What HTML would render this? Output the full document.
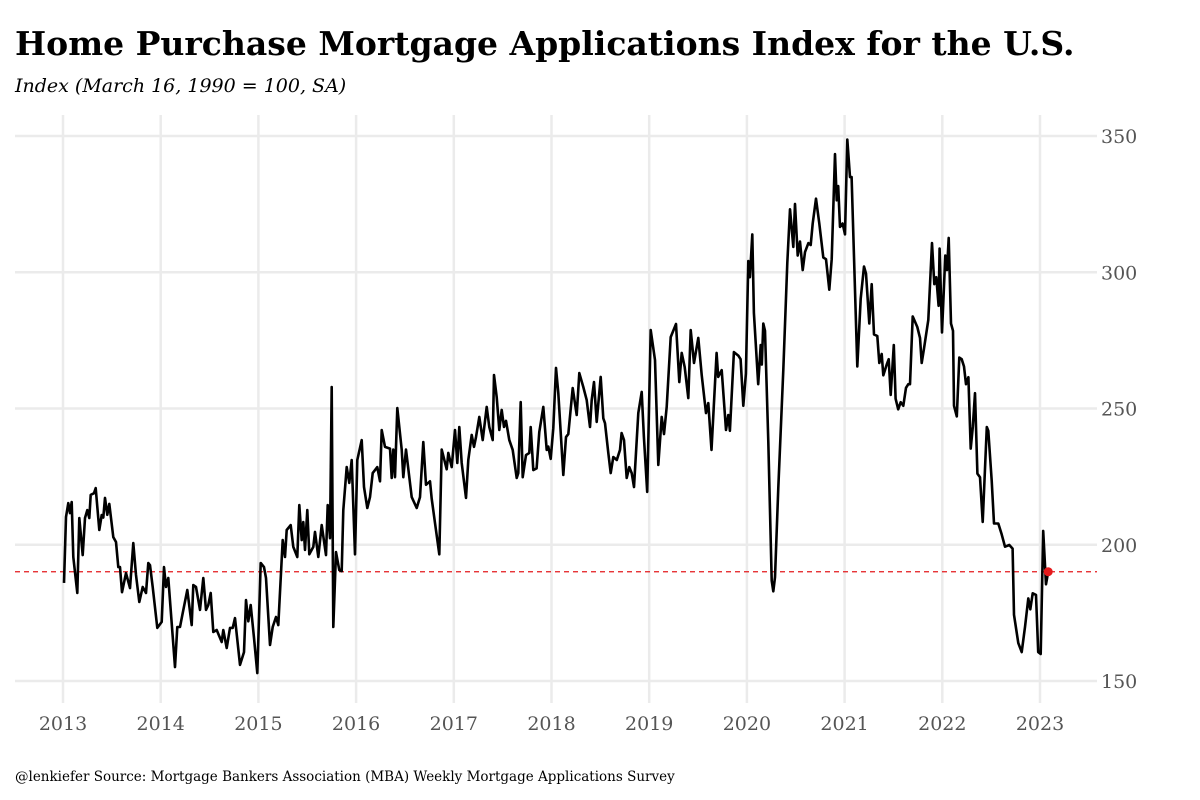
<!DOCTYPE html>
<html><head><meta charset="utf-8">
<style>
html,body{margin:0;padding:0;background:#fff;}
body{width:1200px;height:800px;overflow:hidden;}
svg{display:block;}
</style></head>
<body>
<svg id="chart" width="1200" height="800">
<text x="15" y="55" font-family="DejaVu Serif, Liberation Serif, serif" font-weight="bold" font-size="33" fill="#000">Home Purchase Mortgage Applications Index for the U.S.</text>
<text x="15" y="92" font-family="DejaVu Serif, Liberation Serif, serif" font-style="italic" font-size="19" fill="#000">Index (March 16, 1990 = 100, SA)</text>
<text x="15" y="781" font-family="DejaVu Serif, Liberation Serif, serif" font-size="13.5" fill="#000">@lenkiefer Source: Mortgage Bankers Association (MBA) Weekly Mortgage Applications Survey</text>
<g id="grid"></g>
<g id="series"></g>
<g id="axes"></g>
</svg>
<script>
const dates=[2013.010,2013.031,2013.054,2013.072,2013.089,2013.105,2013.146,2013.167,2013.202,2013.225,2013.249,2013.269,2013.284,2013.317,2013.335,2013.372,2013.396,2013.412,2013.430,2013.453,2013.474,2013.515,2013.542,2013.566,2013.583,2013.604,2013.645,2013.686,2013.720,2013.747,2013.781,2013.816,2013.850,2013.873,2013.890,2013.918,2013.965,2014.010,2014.034,2014.054,2014.078,2014.146,2014.170,2014.198,2014.225,2014.272,2014.317,2014.334,2014.361,2014.402,2014.436,2014.464,2014.487,2014.512,2014.538,2014.573,2014.624,2014.641,2014.676,2014.709,2014.737,2014.760,2014.812,2014.853,2014.873,2014.897,2014.921,2014.955,2014.989,2015.024,2015.057,2015.078,2015.119,2015.146,2015.180,2015.204,2015.249,2015.272,2015.290,2015.331,2015.357,2015.398,2015.419,2015.443,2015.460,2015.477,2015.500,2015.521,2015.562,2015.579,2015.613,2015.648,2015.692,2015.709,2015.733,2015.750,2015.767,2015.794,2015.828,2015.853,2015.869,2015.904,2015.930,2015.955,2015.989,2016.012,2016.057,2016.081,2016.115,2016.142,2016.170,2016.217,2016.245,2016.262,2016.296,2016.347,2016.364,2016.381,2016.398,2016.422,2016.467,2016.483,2016.511,2016.569,2016.620,2016.654,2016.688,2016.715,2016.756,2016.774,2016.808,2016.852,2016.876,2016.927,2016.944,2016.978,2017.012,2017.036,2017.056,2017.081,2017.125,2017.148,2017.183,2017.207,2017.227,2017.261,2017.296,2017.337,2017.363,2017.398,2017.411,2017.439,2017.466,2017.490,2017.514,2017.534,2017.568,2017.603,2017.644,2017.660,2017.685,2017.705,2017.739,2017.773,2017.787,2017.814,2017.848,2017.875,2017.916,2017.951,2017.967,2017.992,2018.018,2018.046,2018.070,2018.121,2018.148,2018.172,2018.217,2018.258,2018.285,2018.325,2018.360,2018.394,2018.411,2018.435,2018.463,2018.504,2018.530,2018.548,2018.581,2018.606,2018.633,2018.668,2018.701,2018.718,2018.742,2018.770,2018.796,2018.821,2018.844,2018.888,2018.923,2018.946,2018.980,2019.015,2019.059,2019.093,2019.128,2019.151,2019.179,2019.220,2019.274,2019.308,2019.333,2019.363,2019.400,2019.425,2019.459,2019.503,2019.537,2019.581,2019.605,2019.638,2019.690,2019.706,2019.742,2019.786,2019.810,2019.826,2019.867,2019.912,2019.936,2019.963,2019.990,2020.014,2020.031,2020.055,2020.072,2020.116,2020.141,2020.152,2020.168,2020.185,2020.219,2020.254,2020.270,2020.288,2020.321,2020.373,2020.413,2020.441,2020.475,2020.492,2020.520,2020.544,2020.571,2020.595,2020.629,2020.653,2020.674,2020.707,2020.741,2020.782,2020.810,2020.843,2020.868,2020.902,2020.919,2020.934,2020.953,2020.980,2021.004,2021.028,2021.055,2021.072,2021.130,2021.165,2021.199,2021.219,2021.253,2021.277,2021.301,2021.335,2021.355,2021.380,2021.396,2021.431,2021.451,2021.472,2021.504,2021.522,2021.549,2021.574,2021.601,2021.628,2021.652,2021.669,2021.697,2021.744,2021.772,2021.789,2021.813,2021.857,2021.895,2021.918,2021.939,2021.962,2021.972,2021.997,2022.031,2022.048,2022.065,2022.089,2022.110,2022.120,2022.148,2022.174,2022.199,2022.222,2022.243,2022.267,2022.291,2022.312,2022.335,2022.359,2022.386,2022.414,2022.455,2022.471,2022.506,2022.529,2022.573,2022.608,2022.642,2022.686,2022.720,2022.734,2022.778,2022.813,2022.846,2022.880,2022.901,2022.925,2022.959,2022.982,2023.007,2023.033,2023.061,2023.084];
const values=[186,210.2,215.3,211.6,215.7,195.5,182.3,209.8,196.2,209.8,212.7,209.8,218.3,218.9,220.8,205.4,210.9,210,217.2,211,215,202.8,201,191.8,191.8,182.6,189.6,184.1,200.6,188.9,179,184.5,182.3,193.3,192.5,184.5,169.5,171.7,191.8,184.5,187.8,155.1,169.8,169.8,174.9,183.4,170.5,185.2,184.5,176.1,187.8,176.1,177.9,182.3,168,168.7,164.3,168.7,162.1,169.5,169.5,173.1,155.9,160.6,179.7,171.9,177.9,165.8,152.9,193.3,191.8,187.8,163.2,169.8,173.5,170.5,201.7,195.5,205.4,207.2,199.2,195.5,214.6,201.7,208.3,198.1,212.7,196.5,199.2,204.7,195.5,207.2,196.2,214.6,202.4,257.9,169.8,197.3,190.7,190.3,212.7,228.5,222.7,231.1,196.5,231.1,238.4,221.2,213.5,217.5,226.3,228.5,223.3,242.1,235.9,235.3,224.5,234.9,224.8,250.2,234.9,224.8,234.9,217.5,213.5,217.5,237.7,222,223.3,216.9,208,196.5,234.9,227.7,233.7,228.5,242.1,230,243.2,230,217.2,231.1,240.3,235.9,239.5,246.9,238.4,250.6,243.2,238.4,262.3,254.2,242.1,249.5,243.2,245.5,238.4,234.8,224.5,226.3,252.4,224.8,232.9,233.7,243.2,227.4,228,241.4,250.6,234.8,236,231.5,242.8,264.9,255.7,225.6,239.5,240.6,257.5,247.6,263,257.9,253.1,243.2,253.1,259.7,245.1,261.6,246.4,244.6,233.7,226.3,232.2,231.1,234.8,241,238.4,224.5,228.5,226.3,221.2,248.3,256.1,239.5,219.4,278.8,267.8,229.3,246.9,240.6,250.6,276.2,281,259.7,270.4,265.2,253.8,278.8,266.7,275.9,262.3,248.3,252,234.8,270.4,261.6,264.1,242.1,247.6,241.8,270.7,269.4,268.1,251.0,262.8,304.1,298.2,313.9,285.1,258.9,273.3,266.1,281.2,278.5,237.9,186.8,182.9,188.1,220.9,264.1,303.4,323.1,309.3,325.1,306.1,311.3,300.8,307.4,310.7,310.0,317.9,327.0,317.9,305.4,304.8,293.6,304.8,343.4,326.4,331.6,316.6,317.9,313.9,348.7,334.9,334.9,265.4,290.3,302.1,299.5,281.2,295.6,277.2,276.6,266.7,270.0,262.2,266.1,268.1,255.0,273.3,253.6,249.7,252.3,251.0,257.6,258.9,258.9,283.8,279.9,275.9,266.7,272.0,282.5,310.7,295.6,298.2,287.7,308.7,277.9,306.1,300.8,312.6,281.2,278.5,251.0,247.1,268.7,268.1,265.4,258.9,261.5,235.3,243.2,255.6,226.1,224.8,208.4,243.2,241.8,223.5,207.8,207.8,203.8,199.3,199.9,198.6,174.3,163.9,160.6,169.8,180.3,176.3,182.2,181.6,160.6,159.9,205.1,185.5,190.1];
const xTicks=[2013,2014,2015,2016,2017,2018,2019,2020,2021,2022,2023];
const yTicks=[150,200,250,300,350];

const NS="http://www.w3.org/2000/svg";
const X0=63, PXY=97.7, Y150=681, PXV=2.725;
function xs(t){return X0+(t-2013)*PXY;}
function ys(v){return Y150-(v-150)*PXV;}
function mk(tag,attrs,parent){const e=document.createElementNS(NS,tag);for(const k in attrs)e.setAttribute(k,attrs[k]);parent.appendChild(e);return e;}
const grid=document.getElementById('grid'),axes=document.getElementById('axes'),ser=document.getElementById('series');
yTicks.forEach(v=>{
  const l=mk('line',{x1:15,x2:1097,y1:ys(v),y2:ys(v),stroke:'#ebebeb','stroke-width':2.5},grid);
  
  
  const t=mk('text',{x:1101,y:ys(v)+7,'font-family':'DejaVu Serif, Liberation Serif, serif','font-size':19,fill:'#555'},axes);
  t.textContent=v;
  
  
});
xTicks.forEach(yr=>{
  const l=mk('line',{x1:xs(yr),x2:xs(yr),y1:115,y2:703,stroke:'#ebebeb','stroke-width':2.5},grid);
  
  
  const t=mk('text',{x:xs(yr),y:730,'text-anchor':'middle','font-family':'DejaVu Serif, Liberation Serif, serif','font-size':19,fill:'#555'},axes);
  t.textContent=yr;
  
  
});
const last=values[values.length-1];
const ref=mk('line',{x1:15,x2:1097,y1:ys(last),y2:ys(last),stroke:'#e41a1c','stroke-width':1.3,'stroke-dasharray':'5,4'},ser);


const d=dates.map((t,i)=>(i?'L':'M')+xs(t).toFixed(1)+','+ys(values[i]).toFixed(1)).join('');
const p=mk('path',{d:d,fill:'none',stroke:'#000','stroke-width':2.6,'stroke-linejoin':'round'},ser);


const dot=mk('circle',{cx:xs(dates[dates.length-1]),cy:ys(last),r:4.5,fill:'#e41a1c'},ser);


</script>
</body></html>
